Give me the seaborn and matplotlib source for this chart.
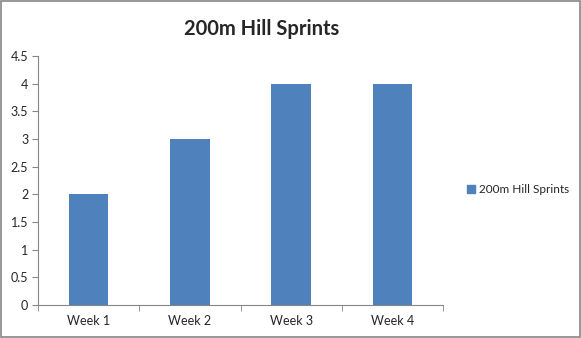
import matplotlib
matplotlib.use("Agg")
import matplotlib.pyplot as plt
import seaborn as sns
import pandas as pd
from matplotlib.patches import Rectangle, Patch
from matplotlib.ticker import FixedLocator

categories = ["Week 1", "Week 2", "Week 3", "Week 4"]
values = [2, 3, 4, 4]
series_name = "200m Hill Sprints"
y_ticks = [0, 0.5, 1, 1.5, 2, 2.5, 3, 3.5, 4, 4.5]

sns.set_style("white")
plt.rcParams['font.family'] = ['Lato', 'DejaVu Sans']

df = pd.DataFrame({"week": categories, "value": values})

fig = plt.figure(figsize=(5.81, 3.38), dpi=100)
ax = fig.add_axes([0.0654, 0.0976, 0.6971, 0.7364])
sns.barplot(data=df, x="week", y="value", color="#4F81BD", saturation=1,
            width=0.39, ax=ax, edgecolor="#4F81BD", linewidth=0)

ax.set_ylim(0, 4.5)
ax.set_xlim(-0.5, 3.5)
ax.set_yticks(y_ticks)
ax.set_yticklabels([f"{t:g}" for t in y_ticks])
ax.set_xlabel("")
ax.set_ylabel("")
for s in ["top", "right"]:
    ax.spines[s].set_visible(False)
for s in ["left", "bottom"]:
    ax.spines[s].set_color("#868686")
    ax.spines[s].set_linewidth(0.8)
ax.tick_params(axis="y", which="major", length=4, color="#868686", labelsize=9, pad=3, direction="out", left=True)
ax.tick_params(axis="x", which="major", length=0, labelsize=9, pad=7)
ax.xaxis.set_minor_locator(FixedLocator([-0.5, 0.5, 1.5, 2.5, 3.5]))
ax.tick_params(axis="x", which="minor", length=4, color="#868686", direction="out", bottom=True)

fig.text(0.451, 0.915, series_name, ha="center", va="center", fontsize=14.5, fontweight="bold")

handle = Patch(facecolor="#4F81BD", edgecolor="#4F81BD")
fig.legend([handle], [series_name], loc="center left", bbox_to_anchor=(0.785, 0.44),
           frameon=False, fontsize=8.5, handlelength=0.7, handleheight=0.7, handletextpad=0.3)

fig.patches.append(Rectangle((0.002, 0.003), 0.996, 0.994, transform=fig.transFigure,
                             fill=False, edgecolor="#868686", linewidth=1.2))

fig.savefig("out.png", dpi=100)
